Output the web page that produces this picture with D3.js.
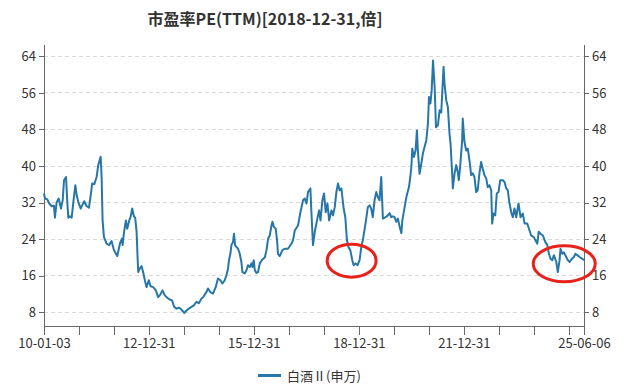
<!DOCTYPE html>
<html>
<head>
<meta charset="utf-8">
<title>市盈率PE(TTM)</title>
<script src="https://d3js.org/d3.v7.min.js"></script>
<style>
    body { margin: 0; background: #fff; font-family: "Noto Sans CJK SC", "Noto Sans", sans-serif; }
    .axis path, .axis line { stroke: #666; shape-rendering: crispEdges; }
    .axis text { fill: #333; font-size: 13px; font-family: "Noto Sans CJK SC", "Noto Sans", sans-serif; }
    .grid line { stroke: #d9d9d9; stroke-dasharray: 4,3; shape-rendering: crispEdges; }
</style>
</head>
<body>
<div id="chart"></div>
<script>
// series: 白酒Ⅱ(申万) PE(TTM)
var dates = ["2010-01-03","2010-01-13","2010-02-06","2010-02-27","2010-03-24","2010-04-17","2010-04-27","2010-05-15","2010-06-05","2010-06-29",
    "2010-07-17","2010-07-31","2010-08-21","2010-09-03","2010-09-14","2010-10-01","2010-10-19","2010-11-05","2010-11-26","2010-12-10",
    "2010-12-27","2011-01-21","2011-02-10","2011-02-27","2011-03-24","2011-04-17","2011-05-05","2011-05-21","2011-06-11","2011-07-06",
    "2011-07-23","2011-08-17","2011-08-27","2011-09-06","2011-09-20","2011-10-18","2011-11-14","2011-12-09","2012-01-02","2012-02-06",
    "2012-03-05","2012-03-26","2012-04-02","2012-04-15","2012-05-06","2012-05-20","2012-06-10","2012-06-24","2012-07-11","2012-07-29",
    "2012-08-11","2012-08-26","2012-09-05","2012-09-12","2012-09-29","2012-10-17","2012-11-02","2012-11-20","2012-12-08","2012-12-31",
    "2013-01-19","2013-02-15","2013-03-15","2013-04-08","2013-04-25","2013-05-23","2013-06-16","2013-07-10","2013-08-07","2013-08-31",
    "2013-09-21","2013-10-16","2013-11-12","2013-12-07","2014-01-04","2014-01-29","2014-02-22","2014-03-22","2014-04-15","2014-05-13",
    "2014-06-06","2014-07-04","2014-07-20","2014-08-24","2014-09-10","2014-10-05","2014-11-01","2014-11-29","2014-12-23","2015-01-17",
    "2015-02-07","2015-03-03","2015-03-21","2015-04-07","2015-04-17","2015-05-01","2015-05-12","2015-05-29","2015-06-08","2015-06-19",
    "2015-07-03","2015-07-20","2015-08-07","2015-08-24","2015-09-04","2015-09-28","2015-10-16","2015-11-01","2015-11-19","2015-12-07",
    "2015-12-17","2015-12-31","2016-01-11","2016-01-28","2016-02-14","2016-03-03","2016-03-27","2016-04-24","2016-05-12","2016-05-29",
    "2016-06-15","2016-07-03","2016-07-13","2016-07-27","2016-08-16","2016-08-30","2016-09-09","2016-09-27","2016-10-25","2016-11-18",
    "2016-12-22","2017-01-27","2017-02-13","2017-03-03","2017-04-06","2017-05-01","2017-05-28","2017-06-15","2017-07-03","2017-07-19",
    "2017-08-13","2017-08-24","2017-09-09","2017-09-30","2017-10-21","2017-11-11","2017-11-26","2017-12-16","2018-01-02","2018-01-20",
    "2018-02-07","2018-02-24","2018-03-20","2018-04-06","2018-04-24","2018-05-11","2018-05-28","2018-06-14","2018-07-02","2018-07-26",
    "2018-08-12","2018-08-29","2018-09-13","2018-10-03","2018-10-24","2018-11-07","2018-11-27","2018-12-18","2019-01-08","2019-01-26",
    "2019-02-11","2019-03-11","2019-04-04","2019-04-22","2019-05-09","2019-05-26","2019-06-13","2019-07-01","2019-07-18","2019-08-04",
    "2019-08-22","2019-09-08","2019-10-06","2019-10-30","2019-11-17","2019-12-04","2019-12-21","2020-01-08","2020-01-26","2020-02-12",
    "2020-03-01","2020-03-19","2020-03-29","2020-04-22","2020-05-10","2020-06-06","2020-06-20","2020-07-01","2020-07-11","2020-07-28",
    "2020-08-14","2020-08-28","2020-09-07","2020-09-25","2020-10-13","2020-10-29","2020-11-16","2020-12-04","2020-12-21","2021-01-01",
    "2021-01-16","2021-01-29","2021-02-12","2021-03-01","2021-03-15","2021-04-04","2021-04-22","2021-05-09","2021-06-02","2021-06-12",
    "2021-06-30","2021-07-17","2021-08-03","2021-08-14","2021-08-27","2021-09-07","2021-09-24","2021-10-12","2021-10-28","2021-11-08",
    "2021-11-22","2021-12-13","2021-12-19","2022-01-06","2022-01-24","2022-02-10","2022-02-27","2022-03-17","2022-04-02","2022-04-20",
    "2022-05-08","2022-05-24","2022-06-11","2022-06-29","2022-07-16","2022-08-03","2022-08-21","2022-09-06","2022-09-24","2022-10-12",
    "2022-10-22","2022-11-05","2022-11-23","2022-12-09","2022-12-27","2023-01-14","2023-02-10","2023-02-28","2023-03-18","2023-04-03",
    "2023-04-21","2023-05-09","2023-05-25","2023-06-12","2023-06-30","2023-07-24","2023-08-14","2023-09-07","2023-09-25","2023-10-23",
    "2023-11-16","2023-12-03","2024-01-01","2024-01-15","2024-02-05","2024-02-19","2024-03-10","2024-04-03","2024-04-28","2024-05-19",
    "2024-06-05","2024-06-22","2024-07-10","2024-07-27","2024-08-21","2024-09-06","2024-09-24","2024-10-04","2024-10-22","2024-11-08",
    "2024-12-03","2024-12-20","2025-01-07","2025-01-31","2025-02-21","2025-03-08","2025-03-28","2025-04-21","2025-05-19","2025-06-06"];
var pe = [34.0,32.9,32.7,31.8,31.2,31.3,28.7,32.1,32.9,30.7,
    32.5,36.9,37.6,32.1,28.7,29.0,28.7,32.1,35.8,33.6,
    32.1,30.7,31.6,32.3,31.2,30.9,33.6,36.2,36.0,37.6,
    40.2,42.0,37.6,28.1,24.5,23.0,22.7,23.6,21.6,20.3,
    23.0,24.1,22.7,25.2,28.1,26.3,28.1,28.8,30.7,29.0,
    28.7,25.6,20.1,16.8,17.6,18.1,16.8,15.0,13.5,15.0,
    13.7,13.5,12.8,11.3,11.7,12.8,11.7,11.2,10.8,10.6,
    9.2,8.8,9.0,8.6,7.85,8.4,8.8,9.2,9.5,10.3,
    10.0,11.0,11.3,12.4,13.2,12.4,12.1,13.5,15.4,15.0,
    14.3,15.0,16.1,17.6,19.4,20.8,22.7,23.4,25.2,22.7,
    22.3,21.9,20.8,19.0,16.8,16.5,17.2,18.3,17.9,18.7,
    17.9,19.4,17.2,16.6,16.8,18.7,19.5,20.0,21.6,24.1,
    24.8,27.0,27.8,26.7,26.3,23.8,20.8,20.3,21.6,21.9,
    21.9,23.0,23.8,25.9,27.0,29.9,32.5,32.9,31.8,34.3,
    35.1,29.6,22.7,25.9,28.1,30.3,28.1,32.5,34.0,29.9,
    31.8,28.1,30.3,29.2,31.0,34.3,36.2,34.7,35.1,30.7,
    28.8,23.8,22.3,21.6,19.4,18.3,18.7,18.3,19.4,22.3,
    23.8,27.4,31.0,31.4,30.7,28.8,32.5,34.3,33.2,32.5,
    37.6,28.5,28.8,29.2,29.7,28.8,29.0,28.8,27.8,28.5,
    26.7,25.3,28.1,31.0,33.2,35.4,37.6,39.8,43.8,42.0,
    43.4,47.8,43.4,38.3,40.5,42.7,44.2,45.6,49.3,55.1,
    53.7,56.6,63.1,57.3,48.5,48.9,52.2,51.7,61.7,58.0,
    54.4,52.9,47.1,44.9,39.8,35.1,38.3,40.2,38.7,36.9,
    39.8,45.6,50.4,45.3,43.4,43.8,41.3,38.0,38.4,37.6,
    34.3,34.7,38.4,40.9,39.4,38.0,37.3,35.4,35.8,34.7,
    27.4,29.6,29.2,34.0,34.3,36.9,36.9,36.5,35.1,34.7,
    31.8,29.9,28.8,30.7,28.8,31.8,28.8,29.6,27.4,27.4,
    25.9,24.8,24.4,23.8,23.0,25.6,25.2,24.8,23.4,22.7,
    20.8,19.7,19.4,20.5,19.0,16.8,19.4,21.9,20.8,21.1,
    20.1,19.4,19.0,19.7,20.1,20.8,20.5,20.1,19.7,19.4];

var yTicks = [8, 16, 24, 32, 40, 48, 56, 64];
var xTickDates = ["2010-01-03","2010-12-31","2011-12-31","2012-12-31","2013-12-31","2014-12-31","2015-12-31","2016-12-31",
    "2017-12-31","2018-12-31","2019-12-31","2020-12-31","2021-12-31","2022-12-31","2023-12-31","2024-12-31","2025-06-06"];
var xTickLabels = ["10-01-03","12-12-31","15-12-31","18-12-31","21-12-31","25-06-06"];

// red circled lows
var markDates = ["2018-10-17", "2024-11-12"];
var markValues = [19.3, 18.6];

var title = "市盈率PE(TTM)[2018-12-31,倍]";
var seriesName = "白酒Ⅱ(申万)";

var W = 630, H = 389;
var parse = d3.timeParse("%Y-%m-%d");
var fmt = d3.timeFormat("%y-%m-%d");
var data = dates.map(function(d, i) { return { date: parse(d), value: pe[i] }; });

var x = d3.scaleTime()
    .domain([parse(dates[0]), parse(dates[dates.length - 1])])
    .range([44, 584]);
var y = d3.scaleLinear()
    .domain([5, 66.7])
    .range([326, 44]);

var svg = d3.select("#chart").append("svg")
    .attr("width", W)
    .attr("height", H);

// title
svg.append("text")
    .attr("x", 265)
    .attr("y", 25)
    .attr("text-anchor", "middle")
    .attr("font-size", 16)
    .attr("font-weight", "bold")
    .attr("fill", "#333")
    .text(title);

// grid
svg.append("g")
    .attr("class", "grid")
    .selectAll("line")
    .data(yTicks)
    .enter().append("line")
        .attr("x1", x.range()[0])
        .attr("x2", x.range()[1])
        .attr("y1", function(d) { return y(d); })
        .attr("y2", function(d) { return y(d); });

// axes
svg.append("g")
    .attr("class", "axis")
    .attr("transform", "translate(" + x.range()[0] + ",0)")
    .call(d3.axisLeft(y).tickValues(yTicks).tickSize(5).tickSizeOuter(0).tickPadding(3));
svg.append("g")
    .attr("class", "axis")
    .attr("transform", "translate(" + x.range()[1] + ",0)")
    .call(d3.axisRight(y).tickValues(yTicks).tickSize(5).tickSizeOuter(0).tickPadding(3));
svg.append("g")
    .attr("class", "axis")
    .attr("transform", "translate(0," + y.range()[0] + ")")
    .call(d3.axisBottom(x)
        .tickValues(xTickDates.map(parse))
        .tickSize(9)
        .tickSizeOuter(0)
        .tickPadding(4)
        .tickFormat(function(d) {
            var s = fmt(d);
            return xTickLabels.indexOf(s) >= 0 ? s : "";
        }));

// series line
var line = d3.line()
    .x(function(d) { return x(d.date); })
    .y(function(d) { return y(d.value); });
svg.append("path")
    .datum(data)
    .attr("fill", "none")
    .attr("stroke", "#2677a8")
    .attr("stroke-width", 2)
    .attr("stroke-linejoin", "round")
    .attr("d", line);

// red ellipses
svg.append("g")
    .selectAll("ellipse")
    .data(markDates)
    .enter().append("ellipse")
        .attr("cx", function(d) { return x(parse(d)); })
        .attr("cy", function(d, i) { return y(markValues[i]); })
        .attr("rx", function(d, i) { return i == 0 ? 24.5 : 31; })
        .attr("ry", function(d, i) { return i == 0 ? 16.5 : 18; })
        .attr("fill", "none")
        .attr("stroke", "#e8221b")
        .attr("stroke-width", 3);

// legend
var legend = svg.append("g");
legend.append("line")
    .attr("x1", 258).attr("x2", 281)
    .attr("y1", 375.5).attr("y2", 375.5)
    .attr("stroke", "#2677a8")
    .attr("stroke-width", 3);
legend.append("text")
    .attr("x", 287)
    .attr("y", 380.5)
    .attr("font-size", 13)
    .attr("fill", "#333")
    .text(seriesName);
</script>
</body>
</html>
